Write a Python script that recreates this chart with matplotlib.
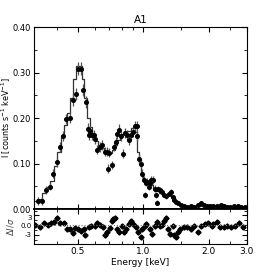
import matplotlib
matplotlib.use("Agg")
import matplotlib.pyplot as plt
from matplotlib.ticker import FixedLocator, NullFormatter, MultipleLocator

# observed spectrum (keV, counts/s/keV, 1-sigma)
energy = [0.327, 0.342, 0.357, 0.372, 0.386, 0.400, 0.417, 0.427, 0.441, 0.459,
          0.474, 0.489, 0.501, 0.517, 0.530, 0.545, 0.559, 0.573, 0.563, 0.580,
          0.593, 0.604, 0.615, 0.637, 0.650, 0.665, 0.684, 0.700, 0.693, 0.721,
          0.734, 0.747, 0.760, 0.777, 0.790, 0.810, 0.822, 0.839, 0.860, 0.876,
          0.898, 0.917, 0.933, 0.940, 0.956, 0.974, 0.991, 1.010, 1.020, 1.030,
          1.045, 1.063, 1.075, 1.090, 1.110, 1.130, 1.150, 1.160, 1.170, 1.190,
          1.220, 1.250, 1.280, 1.310, 1.350, 1.370, 1.390, 1.420, 1.440, 1.490,
          1.540, 1.600, 1.660, 1.720, 1.780, 1.840, 1.900, 1.960, 2.030, 2.100,
          2.180, 2.270, 2.350, 2.430, 2.520, 2.620, 2.720, 2.830, 2.950]
flux = [0.018, 0.018, 0.042, 0.049, 0.078, 0.103, 0.137, 0.160, 0.198, 0.201,
        0.240, 0.253, 0.309, 0.309, 0.262, 0.236, 0.177, 0.171, 0.163, 0.163,
        0.163, 0.155, 0.130, 0.137, 0.140, 0.126, 0.126, 0.124, 0.089, 0.097,
        0.137, 0.148, 0.165, 0.174, 0.160, 0.122, 0.168, 0.163, 0.152, 0.163,
        0.170, 0.182, 0.182, 0.160, 0.111, 0.100, 0.078, 0.064, 0.031, 0.058,
        0.060, 0.049, 0.058, 0.064, 0.064, 0.045, 0.031, 0.014, 0.045, 0.042,
        0.038, 0.031, 0.028, 0.034, 0.038, 0.027, 0.020, 0.015, 0.0125, 0.009,
        0.007, 0.005, 0.006, 0.005, 0.008, 0.0125, 0.009, 0.007, 0.006, 0.007,
        0.006, 0.009, 0.006, 0.005, 0.005, 0.006, 0.007, 0.005, 0.004]
flux_err = [0.008, 0.008, 0.008, 0.008, 0.009, 0.010, 0.011, 0.011, 0.012, 0.012,
            0.013, 0.013, 0.014, 0.014, 0.013, 0.013, 0.012, 0.012, 0.011, 0.011,
            0.011, 0.011, 0.010, 0.011, 0.011, 0.010, 0.010, 0.010, 0.009, 0.009,
            0.010, 0.011, 0.011, 0.012, 0.011, 0.010, 0.011, 0.011, 0.011, 0.011,
            0.012, 0.012, 0.012, 0.011, 0.010, 0.010, 0.009, 0.008, 0.007, 0.008,
            0.008, 0.007, 0.008, 0.008, 0.008, 0.007, 0.006, 0.005, 0.006, 0.006,
            0.006, 0.005, 0.005, 0.005, 0.006, 0.005, 0.004, 0.004, 0.004, 0.003,
            0.003, 0.003, 0.003, 0.003, 0.003, 0.004, 0.003, 0.003, 0.003, 0.003,
            0.003, 0.003, 0.003, 0.003, 0.003, 0.003, 0.003, 0.003, 0.003]

# best-fit model
model_e = [0.316, 0.335, 0.350, 0.365, 0.380, 0.395, 0.410, 0.425, 0.440, 0.455,
           0.470, 0.485, 0.500, 0.515, 0.530, 0.545, 0.560, 0.575, 0.590, 0.610,
           0.630, 0.650, 0.670, 0.690, 0.710, 0.730, 0.750, 0.770, 0.790, 0.810,
           0.830, 0.850, 0.870, 0.890, 0.910, 0.930, 0.950, 0.970, 0.990, 1.010,
           1.040, 1.070, 1.100, 1.130, 1.160, 1.200, 1.240, 1.280, 1.320, 1.360,
           1.400, 1.440, 1.500, 1.600, 1.800, 2.000, 2.400, 3.000]
model_f = [0.018, 0.022, 0.035, 0.048, 0.062, 0.095, 0.125, 0.160, 0.185, 0.212,
           0.245, 0.285, 0.315, 0.315, 0.285, 0.245, 0.200, 0.180, 0.165, 0.150,
           0.140, 0.135, 0.128, 0.124, 0.124, 0.130, 0.140, 0.152, 0.160, 0.165,
           0.168, 0.172, 0.172, 0.178, 0.180, 0.170, 0.125, 0.100, 0.080, 0.065,
           0.058, 0.055, 0.052, 0.045, 0.040, 0.035, 0.032, 0.030, 0.030, 0.027,
           0.020, 0.013, 0.009, 0.006, 0.007, 0.006, 0.005, 0.004]

# residuals (delta I / sigma)
res_e = [0.319, 0.336, 0.351, 0.364, 0.377, 0.390, 0.403, 0.417, 0.432, 0.447,
         0.459, 0.476, 0.488, 0.500, 0.520, 0.535, 0.543, 0.563, 0.579, 0.600,
         0.615, 0.632, 0.655, 0.671, 0.685, 0.703, 0.716, 0.729, 0.742, 0.756,
         0.778, 0.797, 0.820, 0.837, 0.861, 0.882, 0.900, 0.926, 0.948, 0.975,
         0.988, 1.016, 1.034, 1.071, 1.098, 1.130, 1.162, 1.191, 1.220, 1.245,
         1.275, 1.307, 1.334, 1.367, 1.391, 1.415, 1.440, 1.482, 1.543, 1.600,
         1.660, 1.721, 1.785, 1.852, 1.921, 1.992, 2.066, 2.104, 2.182, 2.263,
         2.347, 2.434, 2.524, 2.646, 2.753, 2.880]
res_v = [0.0, -0.7, 0.6, 0.1, 0.8, 1.1, 2.3, 0.8, 0.8, -1.2,
         -1.2, -2.4, -1.0, -1.2, -1.7, -1.2, -3.2, -0.7, -0.2, -0.2,
         0.8, 0.1, -0.7, -3.2, -2.2, -0.9, 1.3, 1.8, 2.3, -1.2,
         -2.2, -0.2, -2.2, -1.2, 0.3, 1.3, 0.3, -0.7, -2.2, -3.7,
         -1.2, -0.2, 0.3, -1.2, -2.7, -0.2, 1.1, -0.2, 0.1, 1.3,
         2.3, -1.2, -2.7, -0.2, -3.2, -3.7, -2.2, -1.2, -0.7, -0.7,
         -1.2, -0.2, -2.2, -0.2, 0.3, 0.8, -0.2, 0.3, 1.1, -0.7,
         -0.7, -0.2, -0.7, -0.2, 0.8, -0.7]

fig = plt.figure(figsize=(2.74, 2.74), dpi=100)
ax = fig.add_axes([0.124, 0.237, 0.777, 0.664])
axr = fig.add_axes([0.124, 0.108, 0.777, 0.129], sharex=ax)

ax.errorbar(energy, flux, yerr=flux_err, fmt='o', ms=2.6, color='black',
            ecolor='#555555', elinewidth=0.9, capsize=0, zorder=3)
ax.plot(model_e, model_f, drawstyle='steps-mid', color='#333333', lw=0.9, zorder=2)

ax.set_xscale('log')
ax.set_xlim(0.315, 3.0)
ax.set_ylim(0.0, 0.40)
ax.set_yticks([0.0, 0.1, 0.2, 0.3, 0.4])
ax.set_yticklabels(['0.00', '0.10', '0.20', '0.30', '0.40'])
ax.yaxis.set_minor_locator(MultipleLocator(0.05))
ax.set_ylabel(r'I [counts s$^{-1}$ keV$^{-1}$]', fontsize=5.8)
ax.yaxis.set_label_coords(-0.098, 0.5)
ax.set_title('A1', fontsize=7.5, pad=3)
ax.tick_params(axis='both', which='both', direction='in', top=True, right=True,
               labelsize=6.0, pad=2)
ax.tick_params(axis='x', labelbottom=False)
ax.spines['bottom'].set_linewidth(1.3)

axr.plot(res_e, res_v, 'D', ms=2.6, color='black')
axr.axhline(0, color='#777777', ls=':', lw=0.8)
axr.set_ylim(-6, 5)
axr.set_yticks([-3, 0, 3])
axr.set_yticklabels(['-3', '0.0', '3'])
axr.yaxis.set_minor_locator(MultipleLocator(1.5))
axr.set_ylabel(r'$\Delta I/\sigma$', fontsize=6, color='#444444')
axr.yaxis.set_label_coords(-0.085, 0.5)
axr.xaxis.set_major_locator(FixedLocator([0.5, 1.0, 2.0, 3.0]))
axr.xaxis.set_minor_locator(FixedLocator([0.4, 0.6, 0.7, 0.8, 0.9, 1.5, 2.5]))
axr.xaxis.set_minor_formatter(NullFormatter())
axr.set_xticklabels(['0.5', '1.0', '2.0', '3.0'])
axr.set_xlabel('Energy [keV]', fontsize=6.5, labelpad=1)
axr.tick_params(axis='both', which='both', direction='in', top=True, right=True,
                labelsize=6.5, pad=2)
axr.tick_params(axis='y', labelsize=5.0, pad=1.5)
axr.get_yticklabels()[2].set_va('top')
axr.spines['top'].set_linewidth(1.3)

fig.savefig('out.png', dpi=100)
